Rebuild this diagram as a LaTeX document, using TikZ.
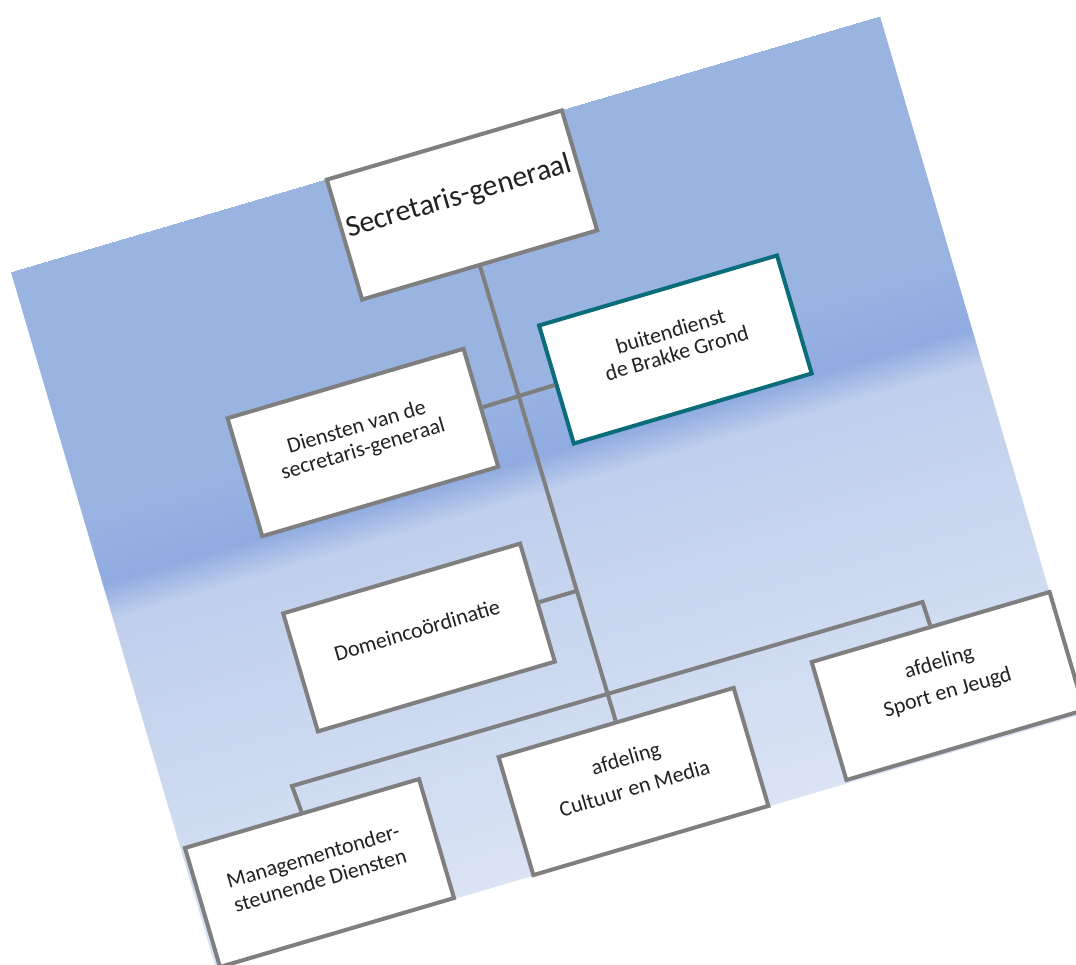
\documentclass[tikz,border=0pt]{standalone}
\usepackage{fontspec}
\setmainfont{Carlito}
\usetikzlibrary{calc}
\definecolor{pagetop}{HTML}{9AB4E2}
\definecolor{pagedeep}{HTML}{8FABE0}
\definecolor{pagelight}{HTML}{BFCFEC}
\definecolor{pagelow}{HTML}{D4DFF3}
\definecolor{linegray}{HTML}{7F7F7F}
\definecolor{tealline}{HTML}{0B6C7A}
\definecolor{inktext}{HTML}{222222}
\pgfdeclareverticalshading{pagebg}{906pt}{color(0pt)=(pagelow!85!white);color(77pt)=(pagelow);color(365pt)=(pagelight);color(402pt)=(pagedeep);color(477pt)=(pagetop);color(727pt)=(pagetop)}
\tikzset{
  tilted/.style={rotate=16.4},
  orgbox/.style={tilted,draw=linegray,line width=4pt,fill=white,inner sep=0pt,minimum width=#1,minimum height=123pt},
  tealbox/.style={orgbox=#1,draw=tealline},
  boxtext/.style={tilted,inner sep=0pt,align=center,text=inktext,font=\fontsize{22}{#1}\selectfont},
  conn/.style={draw=linegray,line width=4pt,line join=miter}
}
\begin{document}
\begin{tikzpicture}[x=1pt,y=-1pt]
\useasboundingbox (0,0) rectangle (1076,965);
\clip (0,0) rectangle (1076,965);
\node[tilted,inner sep=0pt] (page) at (548,492.5) {\pgfuseshading{pagebg}};
% boxes
\node[orgbox=245pt,minimum height=125pt] (sg) at (462,205) {};
\node[orgbox=246pt] (di) at (362.9,442.5) {};
\node[tealbox=248pt] (bu) at (675.4,349.5) {};
\node[orgbox=247pt] (dm) at (419,637.5) {};
\node[orgbox=245pt] (cu) at (633.5,781.5) {};
\node[orgbox=244pt,minimum height=124pt] (mg) at (319.5,873) {};
\node[orgbox=248pt] (sp) at (948,686) {};
% connectors
\coordinate (busleft) at (292,786);
\coordinate (busright) at (922.5,602);
\draw[conn] (sg.south) -- (cu.north);
\draw[conn] (di.east) -- (bu.west);
\draw[conn] (dm.east) -- ($(sg.south)!(dm.east)!(cu.north)$);
\draw[conn] (mg.north) -- (busleft) -- (busright) -- (sp.north);
% labels
\node[boxtext=40,font=\fontsize{30}{40}\selectfont] (sgt) at (459,197) {Secretaris-generaal};
\node[boxtext=23] (dit) at (360,439) {Diensten van de\\secretaris-generaal};
\node[boxtext=23] (but) at (673.5,342) {buitendienst\\de Brakke Grond};
\node[boxtext=23] (dmt) at (417,630) {Domeincoördinatie};
\node[boxtext=31] (cut) at (630,773) {afdeling\\Cultuur en Media};
\node[boxtext=31] (spt) at (943.5,678) {afdeling\\Sport en Jeugd};
\node[boxtext=25] (mgt) at (316.5,868) {Managementonder-\\steunende Diensten};
\end{tikzpicture}
\end{document}
